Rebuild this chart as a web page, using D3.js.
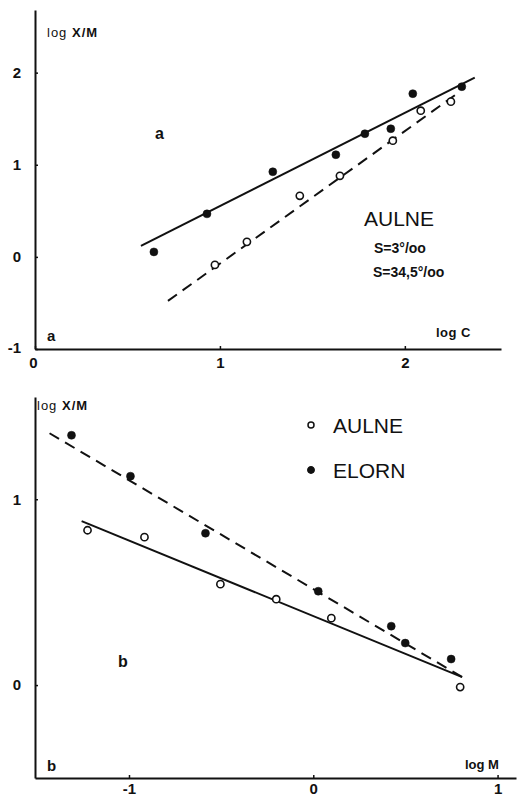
<!DOCTYPE html>
<html>
<head>
<meta charset="utf-8">
<script src="https://cdn.jsdelivr.net/npm/d3@7"></script>
<style>
  body { margin: 0; background: #fff; }
  svg { display: block; }
  text { font-family: "Liberation Sans", Arial, sans-serif; fill: #111; }
  .tick text { font-size: 15px; font-weight: bold; }
</style>
</head>
<body>
<script>
// panel a: log X/M against log C, AULNE river
var topFilled = [[0.643,0.054],[0.93,0.467],[1.286,0.924],[1.627,1.109],[1.784,1.337],[1.924,1.391],[2.043,1.772],[2.308,1.848]];
var topOpen = [[0.973,-0.087],[1.146,0.163],[1.432,0.663],[1.649,0.880],[1.935,1.261],[2.086,1.587],[2.249,1.685]];
var topSolidFit = [[0.573,0.12],[2.378,1.946]];
var topDashedFit = [[0.719,-0.478],[2.297,1.793]];
var topXTicks = [0, 1, 2];
var topYTicks = [-1, 0, 1, 2];

// panel b: log X/M against log M
var elorn = [[-1.312,1.344],[-0.992,1.124],[-0.585,0.817],[0.027,0.505],[0.423,0.317],[0.499,0.226],[0.748,0.140]];
var aulne = [[-1.225,0.833],[-0.916,0.796],[-0.504,0.543],[-0.201,0.462],[0.098,0.360],[0.797,-0.011]];
var elornFit = [[-1.431,1.355],[0.808,0.043]];
var aulneFit = [[-1.257,0.882],[0.808,0.043]];
var botXTicks = [-1, 0, 1];
var botYTicks = [0, 1];

var svg = d3.select('body').append('svg')
    .attr('width', 521)
    .attr('height', 798);

var xA = d3.scaleLinear().domain([0, 2.52]).range([35, 501]);
var yA = d3.scaleLinear().domain([-1, 2.68]).range([349, 10]);
var xB = d3.scaleLinear().domain([-1.51, 1.1]).range([35, 516]);
var yB = d3.scaleLinear().domain([-0.5, 1.55]).range([778, 397]);

function fmt(d) { return d < 0 ? '-' + Math.abs(d) : String(d); }

function drawAxes(g, x, y, xt, yt, xpad) {
    var gx = g.append('g')
        .attr('transform', `translate(0,${ y.range()[0] })`)
        .call(d3.axisBottom(x).tickValues(xt).tickFormat(fmt)
            .tickSizeInner(-3).tickSizeOuter(0).tickPadding(xpad));
    var gy = g.append('g')
        .attr('transform', `translate(${ x.range()[0] },0)`)
        .call(d3.axisLeft(y).tickValues(yt).tickFormat(fmt)
            .tickSizeInner(-3).tickSizeOuter(0).tickPadding(14));
    [gx, gy].forEach(function (a) {
        a.select('.domain').attr('stroke', '#111').attr('stroke-width', 2);
        a.selectAll('.tick line').attr('stroke', '#111').attr('stroke-width', 1.5);
        a.selectAll('.tick text').attr('fill', '#111');
    });
    return {gx: gx, gy: gy};
}

function drawFit(g, x, y, pts, dashed) {
    var line = d3.line().x(d => x(d[0])).y(d => y(d[1]));
    g.append('path')
        .datum(pts)
        .attr('d', line)
        .attr('fill', 'none')
        .attr('stroke', '#111')
        .attr('stroke-width', 2)
        .attr('stroke-dasharray', dashed ? '11,7' : null);
}

function drawPoints(g, x, y, pts, open) {
    g.selectAll(null)
        .data(pts)
        .enter()
        .append('circle')
        .attr('cx', d => x(d[0]))
        .attr('cy', d => y(d[1]))
        .attr('r', open ? 3.6 : 4)
        .attr('fill', open ? '#fff' : '#111')
        .attr('stroke', '#111')
        .attr('stroke-width', open ? 1.6 : 0.5);
}

// ---- panel a
var ga = svg.append('g');
var axA = drawAxes(ga, xA, yA, topXTicks, topYTicks, 8);
axA.gx.selectAll('.tick').filter(d => d === 0).select('text').attr('dx', -2);
axA.gy.selectAll('.tick').filter(d => d === -1).select('text').attr('dy', '0.2em');

drawFit(ga, xA, yA, topSolidFit, false);
drawFit(ga, xA, yA, topDashedFit, true);
drawPoints(ga, xA, yA, topFilled, false);
drawPoints(ga, xA, yA, topOpen, true);

var la = ga.append('text').attr('x', 47).attr('y', 37).style('font-size', '13px');
la.append('tspan').text('log ').style('letter-spacing', '1px');
la.append('tspan').text('X/M').style('font-weight', 'bold').style('letter-spacing', '1px');

ga.append('text').attr('x', 155).attr('y', 139).text('a')
    .style('font-size', '16px').style('font-weight', 'bold');
ga.append('text').attr('x', 47).attr('y', 341).text('a')
    .style('font-size', '15px').style('font-weight', 'bold');
ga.append('text').attr('x', 436).attr('y', 337).text('log C')
    .style('font-size', '13px').style('font-weight', 'bold').style('letter-spacing', '0.5px');

ga.append('text').attr('x', 364).attr('y', 226).text('AULNE')
    .style('font-size', '21px');
ga.append('text').attr('x', 374).attr('y', 253).text('S=3°/oo')
    .style('font-size', '14px').style('font-weight', 'bold');
ga.append('text').attr('x', 373).attr('y', 277).text('S=34,5°/oo')
    .style('font-size', '14px').style('font-weight', 'bold');

// ---- panel b
var gb = svg.append('g');
drawAxes(gb, xB, yB, botXTicks, botYTicks, 5);

drawFit(gb, xB, yB, elornFit, true);
drawFit(gb, xB, yB, aulneFit, false);
drawPoints(gb, xB, yB, elorn, false);
drawPoints(gb, xB, yB, aulne, true);

var lb = gb.append('text').attr('x', 37).attr('y', 410).style('font-size', '13px');
lb.append('tspan').text('log ').style('letter-spacing', '1px');
lb.append('tspan').text('X/M').style('font-weight', 'bold').style('letter-spacing', '1px');

gb.append('text').attr('x', 118).attr('y', 667).text('b')
    .style('font-size', '16px').style('font-weight', 'bold');
gb.append('text').attr('x', 47).attr('y', 771).text('b')
    .style('font-size', '15px').style('font-weight', 'bold');
gb.append('text').attr('x', 465).attr('y', 769).text('log M')
    .style('font-size', '13px').style('font-weight', 'bold');

// legend
var legend = [['AULNE', true], ['ELORN', false]];
var lg = gb.selectAll('g.leg')
    .data(legend)
    .enter()
    .append('g')
    .attr('class', 'leg')
    .attr('transform', (d, i) => `translate(311,${ 425 + i * 45 })`);
lg.append('circle')
    .attr('r', d => d[1] ? 3 : 3.2)
    .attr('fill', d => d[1] ? '#fff' : '#111')
    .attr('stroke', '#111')
    .attr('stroke-width', 1.5);
lg.append('text')
    .attr('x', 22)
    .attr('y', 8)
    .text(d => d[0])
    .style('font-size', '21px');
</script>
</body>
</html>
